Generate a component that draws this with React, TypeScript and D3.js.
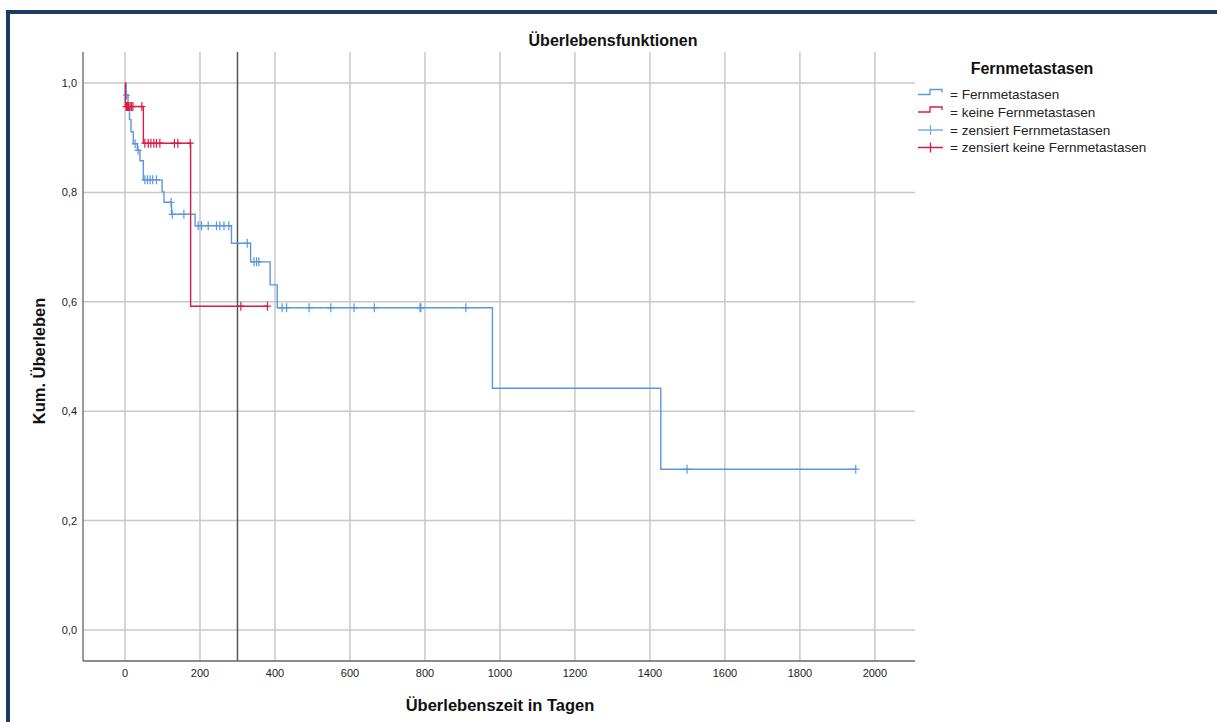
import React from "react";
import * as d3 from "d3";

// ---- data ----
const xTicks = [0, 200, 400, 600, 800, 1000, 1200, 1400, 1600, 1800, 2000];
const yTicks = [0, 0.2, 0.4, 0.6, 0.8, 1.0];
const referenceDay = 300;

// Fernmetastasen (blue) step function
const blueTimes = [0, 3, 8, 12, 16, 22, 33, 40, 49, 99, 104, 124, 187, 284, 335, 387, 406, 980, 1429];
const blueSurv = [1, 0.978, 0.956, 0.933, 0.911, 0.889, 0.877, 0.858, 0.823, 0.801, 0.782, 0.760, 0.739, 0.707, 0.673, 0.631, 0.589, 0.442, 0.294];
const blueEnd = 1949;
const blueCensored = [4, 27, 35, 53, 60, 67, 74, 84, 123, 126, 157, 195, 204, 222, 244, 253, 264, 277, 326, 344, 351, 357, 419, 431, 491, 549, 611, 665, 787, 789, 909, 1499, 1949];

// keine Fernmetastasen (red) step function
const redTimes = [0, 1, 49, 175];
const redSurv = [1, 0.957, 0.890, 0.592];
const redEnd = 380;
const redCensored = [3, 6, 9, 13, 17, 21, 45, 53, 62, 69, 77, 84, 93, 132, 141, 174, 309, 380];

const legendLabels = [
  "= Fernmetastasen",
  "= keine Fernmetastasen",
  "= zensiert Fernmetastasen",
  "= zensiert keine Fernmetastasen",
];

const BLUE = "#5a97de";
const BLUE_LIGHT = "#7aaee8";
const RED = "#d81c46";
const FONT = "'Liberation Sans', Arial, sans-serif";

function survAt(times: number[], surv: number[], t: number) {
  let s = surv[0];
  for (let i = 0; i < times.length; i++) if (times[i] <= t) s = surv[i];
  return s;
}

export default function App() {
  const x = d3.scaleLinear().domain([-112, 2107]).range([83, 915]);
  const y = d3.scaleLinear().domain([-0.0567, 1.0567]).range([661, 52]);
  const fmt = (v: number) => v.toFixed(1).replace(".", ",");

  const line = d3
    .line<[number, number]>()
    .x((d) => x(d[0]))
    .y((d) => y(d[1]))
    .curve(d3.curveStepAfter);

  const mk = (times: number[], surv: number[], end: number) => {
    const pts: [number, number][] = times.map((t, i) => [t, surv[i]]);
    pts.push([end, surv[surv.length - 1]]);
    return line(pts) || "";
  };

  const censorPath = (cens: number[], times: number[], surv: number[]) =>
    cens
      .map((t) => {
        const cx = x(t);
        const cy = y(survAt(times, surv, t));
        return `M${cx - 3.5},${cy}H${cx + 3.5}M${cx},${cy - 4.5}V${cy + 4.5}`;
      })
      .join("");

  const [xl, xr] = x.range();
  const [yb, yt] = y.range();

  const legY = [94.5, 112, 130, 147.5];

  return (
    <svg
      width={1217}
      height={722}
      style={{ position: "absolute", left: 0, top: 0, background: "#fff" }}
      fontFamily={FONT}
    >
      {/* frame */}
      <rect x={6} y={10} width={1211} height={4} fill="#1d3a62" />
      <rect x={6} y={10} width={4} height={712} fill="#1d3a62" />

      {/* grid */}
      {xTicks.map((t) => (
        <line key={"gx" + t} x1={x(t)} x2={x(t)} y1={yt} y2={yb} stroke="#c8c8c8" strokeWidth={1.5} />
      ))}
      {yTicks.map((t) => (
        <line key={"gy" + t} x1={xl} x2={xr} y1={y(t)} y2={y(t)} stroke="#c8c8c8" strokeWidth={1.5} />
      ))}
      {/* reference line */}
      <line x1={x(referenceDay)} x2={x(referenceDay)} y1={yt} y2={yb} stroke="#555" strokeWidth={1.5} />

      {/* axes */}
      <line x1={xl} x2={xl} y1={yt} y2={yb} stroke="#666" strokeWidth={1.3} />
      <line x1={xl} x2={xr} y1={yb} y2={yb} stroke="#666" strokeWidth={1.3} />

      {/* tick labels */}
      {xTicks.map((t) => (
        <text key={"tx" + t} x={x(t)} y={677} fontSize={11} textAnchor="middle" fill="#222">
          {t}
        </text>
      ))}
      {yTicks.map((t) => (
        <text key={"ty" + t} x={77} y={y(t) + 4} fontSize={11} textAnchor="end" fill="#222">
          {fmt(t)}
        </text>
      ))}

      {/* curves */}
      <path d={mk(blueTimes, blueSurv, blueEnd)} fill="none" stroke={BLUE} strokeWidth={1.4} />
      <path d={censorPath(blueCensored, blueTimes, blueSurv)} fill="none" stroke={BLUE} strokeWidth={1.2} />
      <path d={mk(redTimes, redSurv, redEnd)} fill="none" stroke={RED} strokeWidth={1.4} />
      <path d={censorPath(redCensored, redTimes, redSurv)} fill="none" stroke={RED} strokeWidth={1.2} />

      {/* titles */}
      <text x={613} y={46} fontSize={16} fontWeight="bold" textAnchor="middle" fill="#111">
        Überlebensfunktionen
      </text>
      <text x={500} y={711} fontSize={16.5} fontWeight="bold" textAnchor="middle" fill="#111">
        Überlebenszeit in Tagen
      </text>
      <text transform="translate(45,361) rotate(-90)" fontSize={16.5} fontWeight="bold" textAnchor="middle" fill="#111">
        Kum. Überleben
      </text>

      {/* legend */}
      <text x={1032} y={74} fontSize={16} fontWeight="bold" textAnchor="middle" fill="#111">
        Fernmetastasen
      </text>
      <path d={`M918,${legY[0]}H930V${legY[0] - 5}H942V${legY[0] - 2}`} fill="none" stroke={BLUE} strokeWidth={1.3} />
      <path d={`M918,${legY[1]}H930V${legY[1] - 5}H942V${legY[1] - 2}`} fill="none" stroke={RED} strokeWidth={1.3} />
      <path d={`M918,${legY[2]}H943M930.5,${legY[2] - 5}V${legY[2] + 5}`} fill="none" stroke={BLUE_LIGHT} strokeWidth={1.3} />
      <path d={`M918,${legY[3]}H943M930.5,${legY[3] - 5}V${legY[3] + 5}`} fill="none" stroke={RED} strokeWidth={1.3} />
      {legendLabels.map((l, i) => (
        <text key={l} x={950} y={legY[i] + 4.5} fontSize={13.5} fill="#222">
          {l}
        </text>
      ))}
    </svg>
  );
}
